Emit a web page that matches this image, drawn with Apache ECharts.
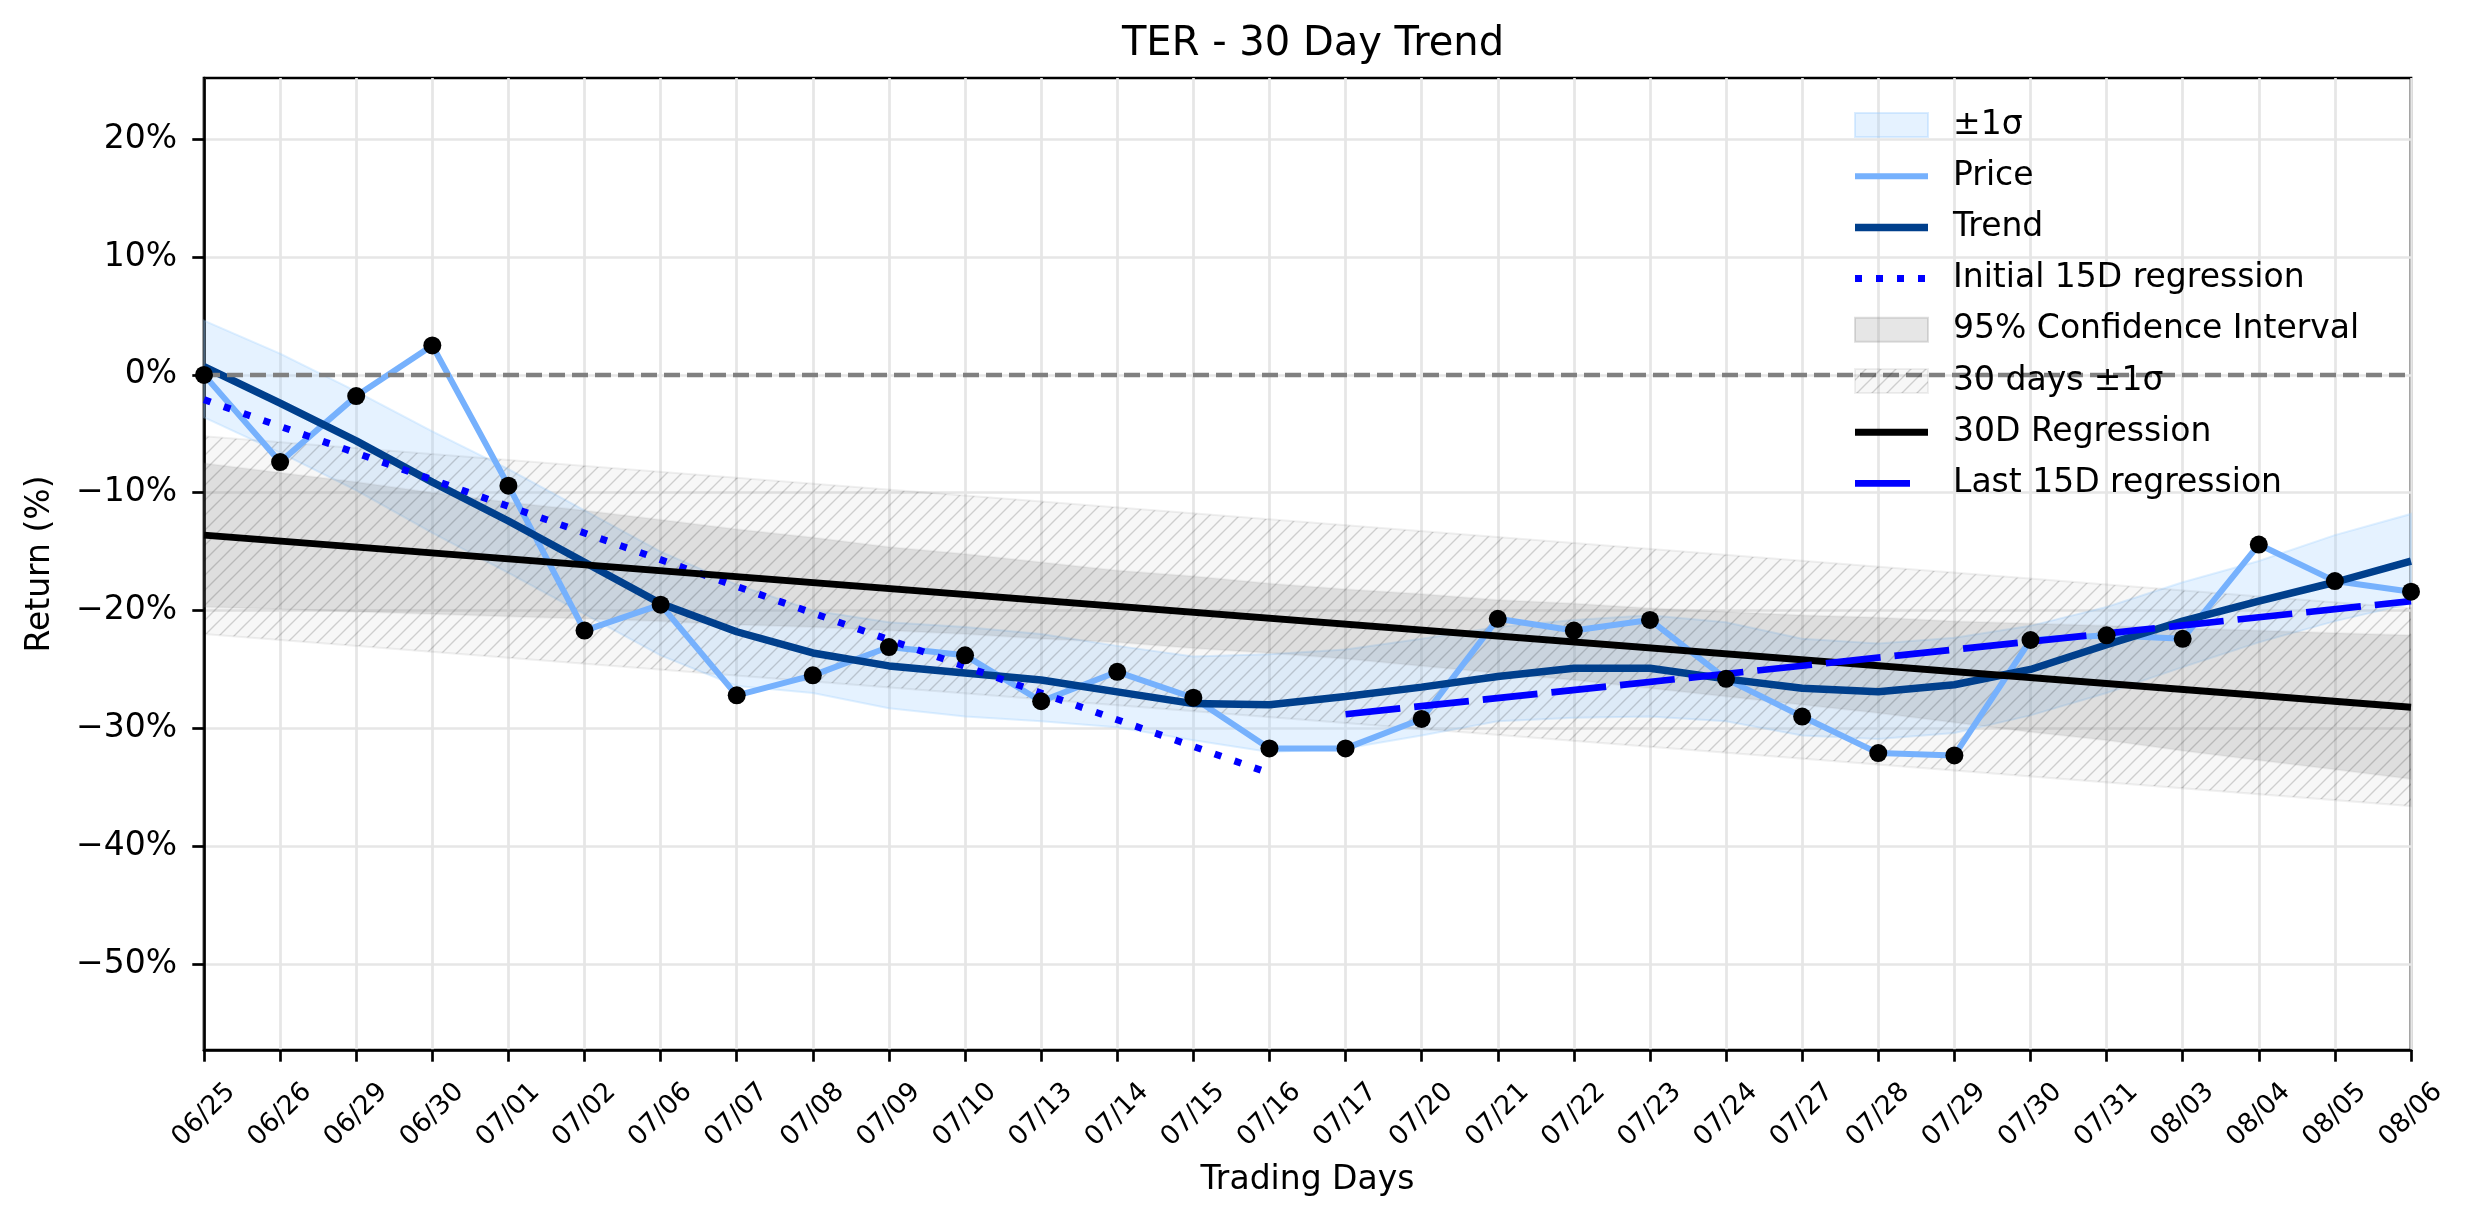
<!DOCTYPE html>
<html>
<head>
<meta charset="UTF-8">
<title>TER - 30 Day Trend</title>
<script src="https://cdn.jsdelivr.net/npm/echarts@6/dist/echarts.min.js"></script>
<style>
  html, body { margin: 0; padding: 0; background: #fff; }
  #chart { width: 2474px; height: 1224px; }
</style>
</head>
<body>
<div id="chart"></div>
<script>
  // trading days (x axis)
  var days = ['06/25', '06/26', '06/29', '06/30', '07/01', '07/02', '07/06', '07/07', '07/08', '07/09',
    '07/10', '07/13', '07/14', '07/15', '07/16', '07/17', '07/20', '07/21', '07/22', '07/23',
    '07/24', '07/27', '07/28', '07/29', '07/30', '07/31', '08/03', '08/04', '08/05', '08/06'];

  // cumulative return, %
  var price = [0, -7.4, -1.8, 2.5, -9.4, -21.7, -19.5, -27.2, -25.5, -23.1,
    -23.8, -27.7, -25.2, -27.4, -31.7, -31.7, -29.2, -20.7, -21.7, -20.8,
    -25.8, -29.0, -32.1, -32.3, -22.5, -22.1, -22.4, -14.4, -17.5, -18.4];

  // smoothed trend and its +-1 sigma envelope
  var trend = [0.7, -2.4, -5.6, -9.1, -12.4, -15.9, -19.4, -21.8, -23.6, -24.7,
    -25.3, -25.9, -26.9, -27.9, -28.0, -27.3, -26.5, -25.6, -24.9, -24.9,
    -25.8, -26.6, -26.9, -26.3, -25.0, -22.9, -20.9, -19.2, -17.6, -15.8];
  var sigmaUpper = [4.6, 1.8, -1.4, -4.8, -8.0, -11.5, -15.0, -17.8, -20.0, -21.0,
    -21.4, -22.0, -23.0, -23.9, -23.7, -23.3, -22.4, -21.4, -20.8, -20.4,
    -21.0, -22.4, -22.8, -22.3, -21.3, -19.7, -17.6, -15.8, -13.6, -11.8];
  var sigmaLower = [-3.6, -6.6, -9.8, -13.4, -16.8, -20.3, -23.8, -26.4, -27.0, -28.3,
    -29.0, -29.4, -29.9, -31.0, -32.0, -31.7, -30.6, -29.4, -29.1, -29.0,
    -29.4, -30.6, -30.9, -30.4, -28.9, -27.0, -24.8, -22.7, -20.9, -19.4];

  // 30 day regression with its 95% confidence interval
  var reg30X = [0, 29];
  var reg30 = [-13.6, -28.2];
  var ciUpper = [-7.5, -8.3, -9.1, -10.0, -10.8, -11.5, -12.3, -13.1, -13.8, -14.6,
    -15.2, -15.9, -16.6, -17.1, -17.7, -18.2, -18.6, -19.1, -19.4, -19.8,
    -20.1, -20.4, -20.6, -20.9, -21.1, -21.3, -21.5, -21.7, -21.9, -22.1];
  var ciLower = [-19.7, -19.9, -20.1, -20.3, -20.5, -20.7, -20.9, -21.2, -21.4, -21.7,
    -22.0, -22.4, -22.7, -23.2, -23.6, -24.1, -24.7, -25.3, -25.9, -26.6,
    -27.3, -28.0, -28.7, -29.5, -30.3, -31.0, -31.9, -32.7, -33.5, -34.3];
  var band30Upper = [-5.2, -19.8];
  var band30Lower = [-22.0, -36.6];

  // 15 day regressions (first and last half)
  var initialX = [0, 14];
  var initialReg = [-2.1, -33.8];
  var lastX = [15, 29];
  var lastReg = [-28.8, -19.2];

  var yTicks = [-50, -40, -30, -20, -10, 0, 10, 20];

  var FONT = 'DejaVu Sans';
  var C_PRICE = '#76b1fd';
  var C_TREND = '#003f8c';
  var C_BAND = 'rgba(153, 204, 255, 0.25)';
  var C_CI = 'rgba(128, 128, 128, 0.2)';

  function pts(ys) { return ys.map(function (v, i) { return [i, v]; }); }
  function pts2(xs, ys) { return xs.map(function (x, i) { return [x, ys[i]]; }); }

  // diagonal hatch like matplotlib '///'
  function hatchCanvas() {
    var c = document.createElement('canvas');
    c.width = 15; c.height = 15;
    var g = c.getContext('2d');
    g.fillStyle = 'rgba(0,0,0,0.03)';
    g.fillRect(0, 0, 15, 15);
    g.strokeStyle = 'rgba(0,0,0,0.17)';
    g.lineWidth = 1.4;
    g.beginPath();
    g.moveTo(-2, 17); g.lineTo(17, -2);
    g.moveTo(-2, 2); g.lineTo(2, -2);
    g.moveTo(13, 17); g.lineTo(17, 13);
    g.stroke();
    return c;
  }
  var hatch = { image: hatchCanvas(), repeat: 'repeat' };

  // filled band between lo and hi, drawn as one polygon through the axes
  function band(name, xs, lo, hi, fill, edge) {
    var data = lo.map(function (v, i) { return [xs ? xs[i] : i, v, hi[i]]; });
    return {
      name: name, type: 'custom', data: data, silent: true, z: 1,
      encode: { x: 0, y: [1, 2] },
      renderItem: function (params, api) {
        if (params.dataIndexInside !== 0) return;
        var n = params.dataInsideLength, top = [], bottom = [];
        for (var i = 0; i < n; i++) {
          top.push(api.coord([api.value(0, i), api.value(2, i)]));
          bottom.unshift(api.coord([api.value(0, i), api.value(1, i)]));
        }
        return {
          type: 'polygon',
          shape: { points: top.concat(bottom) },
          style: { fill: fill, stroke: edge, lineWidth: 2 }
        };
      }
    };
  }

  // hand made legend (upper right, no frame)
  var legendItems = [
    { text: '±1σ', kind: 'patch', fill: C_BAND, stroke: 'rgba(153,204,255,0.35)' },
    { text: 'Price', kind: 'line', color: C_PRICE, width: 6 },
    { text: 'Trend', kind: 'line', color: C_TREND, width: 7.5 },
    { text: 'Initial 15D regression', kind: 'line', color: '#0000ff', width: 7, dash: [7, 14] },
    { text: '95% Confidence Interval', kind: 'patch', fill: C_CI, stroke: 'rgba(128,128,128,0.25)' },
    { text: '30 days ±1σ', kind: 'patch', fill: hatch, stroke: 'rgba(0,0,0,0.06)' },
    { text: '30D Regression', kind: 'line', color: '#000', width: 7 },
    { text: 'Last 15D regression', kind: 'line', color: '#0000ff', width: 6.7, dash: [55, 14], end: 1912 }
  ];
  var legendGraphics = [];
  legendItems.forEach(function (it, i) {
    var cy = 125 + i * 51.2;
    if (it.kind === 'patch') {
      legendGraphics.push({
        type: 'rect', z: 100, silent: true,
        shape: { x: 1855, y: cy - 12, width: 73, height: 24 },
        style: { fill: it.fill, stroke: it.stroke, lineWidth: 2 }
      });
    } else {
      legendGraphics.push({
        type: 'line', z: 100, silent: true,
        shape: { x1: 1855, y1: cy, x2: it.end || 1928, y2: cy },
        style: { stroke: it.color, lineWidth: it.width, lineDash: it.dash || null, lineCap: 'butt' }
      });
    }
    legendGraphics.push({
      type: 'text', z: 100, silent: true, x: 1953, y: cy,
      style: { text: it.text, fontFamily: FONT, fontSize: 33, fill: '#000', verticalAlign: 'middle', align: 'left' }
    });
  });

  var chart = echarts.init(document.getElementById('chart'));
  var series = [
    band('sigma', null, sigmaLower, sigmaUpper, C_BAND, 'rgba(153,204,255,0.3)'),
    band('ci', null, ciLower, ciUpper, C_CI, 'rgba(128,128,128,0.08)'),
    band('band30', reg30X, band30Lower, band30Upper, hatch, 'rgba(0,0,0,0.06)'),
    {
      name: 'Price', type: 'line', data: pts(price), showSymbol: false, z: 3,
      lineStyle: { color: C_PRICE, width: 6 },
      markLine: {
        silent: true, symbol: 'none', label: { show: false },
        lineStyle: { color: '#808080', width: 4.4, type: [16, 7] },
        data: [{ yAxis: 0 }]
      }
    }, {
      name: 'Trend', type: 'line', data: pts(trend), showSymbol: false, z: 3,
      lineStyle: { color: C_TREND, width: 7.5 }
    }, {
      name: 'Initial 15D regression', type: 'line', data: pts2(initialX, initialReg), showSymbol: false, z: 3,
      lineStyle: { color: '#0000ff', width: 7, type: [7, 14], cap: 'butt' }
    }, {
      name: '30D Regression', type: 'line', data: pts2(reg30X, reg30), showSymbol: false, z: 3,
      lineStyle: { color: '#000', width: 7 }
    }, {
      name: 'Last 15D regression', type: 'line', data: pts2(lastX, lastReg), showSymbol: false, z: 3,
      lineStyle: { color: '#0000ff', width: 6.7, type: [55, 14], cap: 'butt' }
    }, {
      name: 'points', type: 'scatter', data: pts(price), symbolSize: 18, z: 5,
      itemStyle: { color: '#000', opacity: 1 }
    }
  ];

  chart.setOption({
    animation: false,
    backgroundColor: '#fff',
    textStyle: { fontFamily: FONT },
    title: {
      text: 'TER - 30 Day Trend', left: 1308, top: 20, textAlign: 'center',
      textStyle: { fontFamily: FONT, fontSize: 40, fontWeight: 'normal', color: '#000' }
    },
    grid: {
      left: 204, right: 63, top: 78, bottom: 174, show: true,
      borderColor: '#000', borderWidth: 2.7, backgroundColor: 'transparent'
    },
    xAxis: {
      type: 'value', min: 0, max: 29, interval: 1,
      name: 'Trading Days', nameLocation: 'middle', nameGap: 114,
      nameTextStyle: { fontFamily: FONT, fontSize: 33, color: '#000' },
      axisLine: { show: true, onZero: false, lineStyle: { color: '#000', width: 2.7 } },
      axisTick: { show: true, length: 11.7, lineStyle: { color: '#000', width: 2.7 } },
      axisLabel: {
        rotate: 45, align: 'center', verticalAlign: 'middle', margin: 65,
        fontFamily: FONT, fontSize: 26.7, color: '#000',
        formatter: function (v) { return days[v]; }
      },
      splitLine: { show: true, lineStyle: { color: '#e6e6e6', width: 2.7 } }
    },
    yAxis: {
      type: 'value', min: -57.3, max: 25.2,
      name: 'Return (%)', nameLocation: 'middle', nameGap: 147, nameRotate: 90,
      nameTextStyle: { fontFamily: FONT, fontSize: 33, color: '#000' },
      axisLine: { show: true, onZero: false, lineStyle: { color: '#000', width: 2.7 } },
      axisTick: { show: true, length: 11.7, customValues: yTicks, lineStyle: { color: '#000', width: 2.7 } },
      axisLabel: {
        customValues: yTicks, margin: 27, fontFamily: FONT, fontSize: 33, color: '#000',
        formatter: function (v) { return (v < 0 ? '\u2212' + (-v) : v) + '%'; }
      },
      splitLine: { show: true, lineStyle: { color: '#e6e6e6', width: 2.7 } }
    },
    graphic: legendGraphics,
    series: series
  });
</script>
</body>
</html>
